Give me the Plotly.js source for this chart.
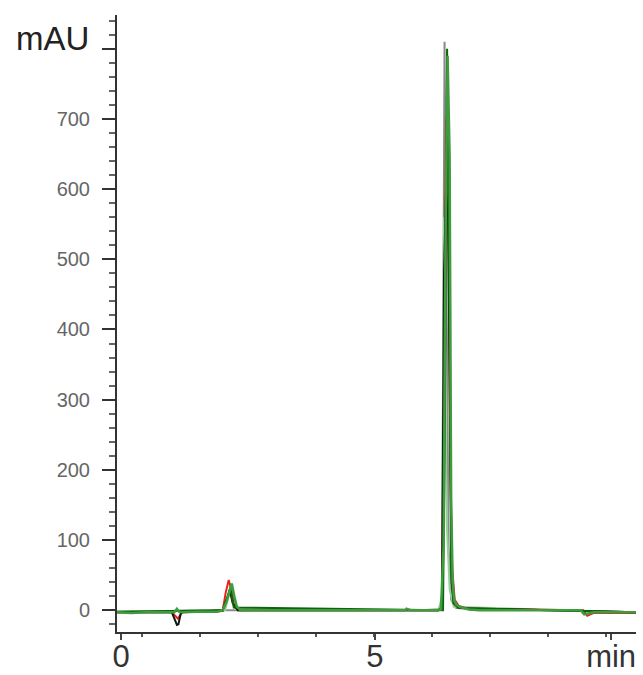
<!DOCTYPE html>
<html>
<head>
<meta charset="utf-8">
<script src="https://cdn.plot.ly/plotly-3.0.1.min.js"></script>
<style>html,body{margin:0;padding:0;background:#fff;}#chart{width:643px;height:675px;}</style>
</head>
<body>
<div id="chart"></div>
<script>
// Retention time (min) and absorbance (mAU)
var greenT = [-0.08, 0.2, 0.5, 0.8, 1.05, 1.10, 1.14, 1.2, 1.5, 1.9, 2.0, 2.08, 2.14, 2.18, 2.23, 2.28, 2.35, 2.6, 3.0, 3.5, 4.0, 5.0, 5.6, 5.62, 5.7, 6.0, 6.30, 6.35, 6.39, 6.43, 6.47, 6.50, 6.53, 6.56, 6.60, 6.67, 6.75, 6.85, 7.05, 8.0, 9.05, 9.12, 9.2, 9.3, 9.6, 10.14];
var greenV = [-3, -4, -3, -3, -3, 2, -2, -3, -2, -2, 0, 12, 30, 38, 20, 5, 0, 0, 0, 0, 0, 0, 0, 2, 0, 0, 1, 90, 540, 790, 645, 160, 40, 14, 8, 5, 3, 1, 0, 0, 0, -6, -5, -3, -3, -3];

var redT = [-0.08, 1.0, 1.12, 1.2, 2.0, 2.06, 2.12, 2.17, 2.22, 2.3, 4.0, 6.25, 6.32, 6.36, 6.40, 6.44, 6.48, 6.52, 6.57, 6.65, 6.85, 9.1, 9.18, 9.3, 10.14];
var redV = [-3, -3, -12, -3, -1, 25, 43, 30, 8, 0, 0, 0, 5, 300, 700, 620, 220, 60, 15, 6, 2, 0, -8, -4, -4];

var grayT = [-0.08, 2.0, 6.25, 6.32, 6.37, 6.41, 6.45, 6.50, 6.60, 10.14];
var grayV = [-2, 0, 0, 10, 810, 420, 90, 15, 3, -3];

var lightT = [-0.08, 2.05, 2.16, 2.25, 6.25, 6.32, 6.36, 6.41, 6.47, 6.55, 10.14];
var lightV = [-2, 0, 36, 2, 0, 20, 560, 130, 30, 5, -3];

var blackT = [-0.08, 1.0, 1.10, 1.13, 1.18, 2.0, 2.08, 2.14, 2.2, 2.3, 6.25, 6.32, 6.36, 6.40, 6.44, 6.47, 6.51, 6.55, 6.65, 10.14];
var blackV = [-3, -3, -21, -20, -3, 0, 15, 28, 10, 0, 0, 2, 480, 600, 560, 320, 40, 10, 3, -3];

var dkgreenT = [-0.08, 2.0, 2.1, 2.15, 2.22, 6.25, 6.34, 6.38, 6.42, 6.46, 6.50, 6.55, 6.65, 10.14];
var dkgreenV = [-2, 0, 20, 32, 4, 0, 0, 300, 800, 500, 60, 10, 3, -3];

// axis labels
var yTickVals = [0, 100, 200, 300, 400, 500, 600, 700, 800];
var yTickText = ["0", "100", "200", "300", "400", "500", "600", "700", ""];
var xTickVals = [0, 5, 9.65];
var xTickText = ["0", "5", "min"];

function tr(x, y, color, w) {
  return {x: x, y: y, type: 'scatter', mode: 'lines', line: {color: color, width: w}, hoverinfo: 'skip', showlegend: false};
}

var data = [
  tr(grayT, grayV, '#8a8a8a', 2),
  tr(lightT, lightV, '#95d095', 2),
  tr(redT, redV, '#e8231c', 2),
  tr(blackT, blackV, '#0f1a0f', 2),
  tr(dkgreenT, dkgreenV, '#0b650b', 2),
  tr(greenT, greenV, '#3d9c3d', 2.5)
];

var layout = {
  width: 643, height: 675,
  margin: {l: 117, r: 7, t: 15, b: 43},
  paper_bgcolor: '#ffffff', plot_bgcolor: '#ffffff',
  font: {family: 'Liberation Sans, Arial, sans-serif'},
  xaxis: {
    range: [-0.08, 10.14], showgrid: false, zeroline: false,
    showline: true, linecolor: '#333', linewidth: 2,
    ticks: 'outside', ticklen: 6, tickwidth: 2, tickcolor: '#444',
    tickvals: xTickVals, ticktext: xTickText,
    tickfont: {size: 31, color: '#333'},
    ticklabelstandoff: -10,
    minor: {tick0: 4.98, dtick: 1.14, ticks: 'outside', ticklen: 3, tickwidth: 2, tickcolor: '#555'}
  },
  yaxis: {
    range: [-31, 848], showgrid: false, zeroline: false,
    showline: true, linecolor: '#333', linewidth: 2,
    ticks: 'outside', ticklen: 13, tickwidth: 2, tickcolor: '#333',
    tickvals: yTickVals, ticktext: yTickText,
    tickfont: {size: 20, color: '#666'},
    ticklabelstandoff: 8,
    minor: {dtick: 20, ticks: 'outside', ticklen: 6, tickwidth: 2, tickcolor: '#666'}
  },
  annotations: [{
    text: 'mAU', xref: 'paper', yref: 'y', x: -0.05, y: 815,
    xanchor: 'right', yanchor: 'middle', showarrow: false,
    font: {size: 33, color: '#222'}
  }]
};

Plotly.newPlot('chart', data, layout, {displayModeBar: false, staticPlot: true});
</script>
</body>
</html>
